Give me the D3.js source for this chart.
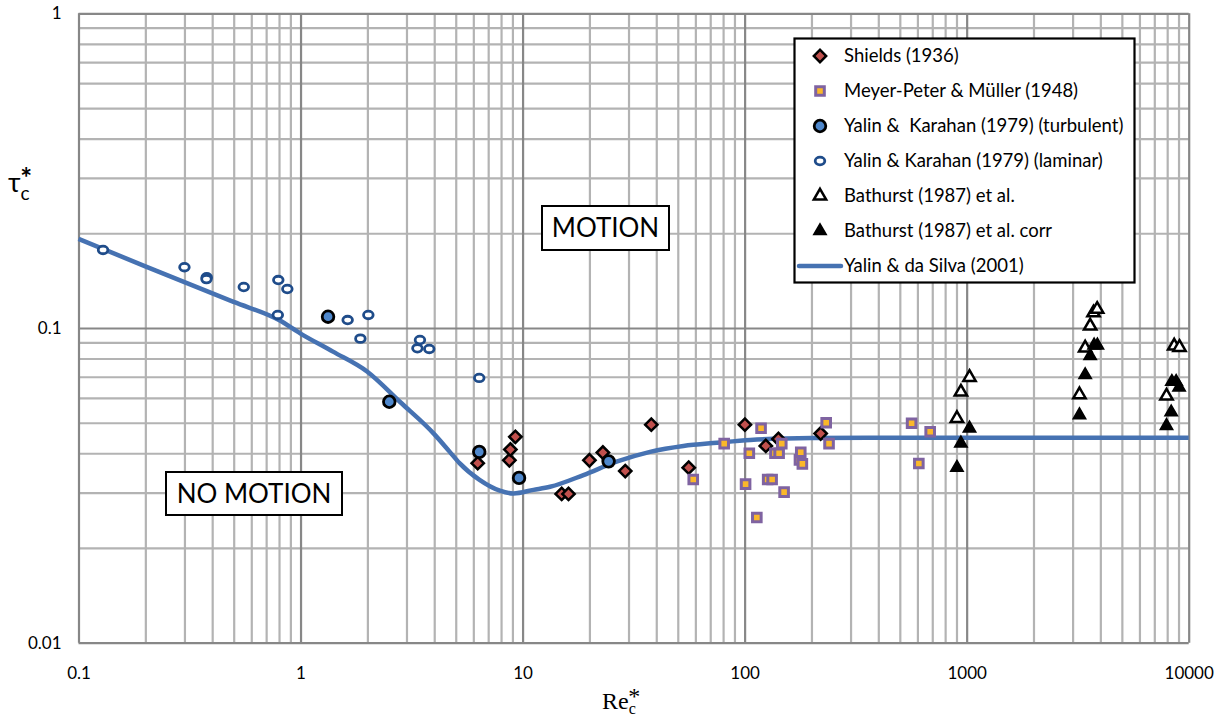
<!DOCTYPE html>
<html>
<head>
<meta charset="utf-8">
<script src="https://cdn.jsdelivr.net/npm/d3@7/dist/d3.min.js"></script>
<style>
  html, body { margin: 0; padding: 0; background: #fff; }
  svg { display: block; }
  text { font-family: Lato, "Open Sans", sans-serif; fill: #000; }
</style>
</head>
<body>
<svg id="chart" width="1225" height="718"></svg>
<script>
// Critical Shields stress versus critical particle Reynolds number

const shieldsRe  = [6.28, 8.72, 8.81, 9.28, 15.0, 16.1, 20.0, 23.0, 29.0, 38.0, 56.0, 100.3, 124.6, 142, 220];
const shieldsTau = [0.0372, 0.0380, 0.0411, 0.0451, 0.0297, 0.0297, 0.0380, 0.0402, 0.0351, 0.0493, 0.0360, 0.0493, 0.0422, 0.0444, 0.0462];

const mpmRe  = [58.7, 80.9, 101, 105, 113.5, 118.6, 127, 133, 137, 143, 147, 150.6, 176.6, 179, 182, 233, 240, 565, 609, 685];
const mpmTau = [0.0330, 0.0429, 0.0319, 0.0400, 0.0250, 0.0480, 0.0330, 0.0330, 0.0400, 0.0400, 0.0429, 0.0301, 0.0381, 0.0403, 0.0370, 0.0500, 0.0429, 0.0498, 0.0371, 0.0468];

const ykTurbRe  = [1.33, 2.51, 6.38, 9.64, 24.4];
const ykTurbTau = [0.1086, 0.0583, 0.0404, 0.0334, 0.0377];

const ykLamRe  = [0.129, 0.30, 0.378, 0.377, 0.555, 0.794, 0.872, 0.79, 1.63, 2.02, 1.86, 3.45, 3.36, 3.80, 6.38];
const ykLamTau = [0.177, 0.156, 0.145, 0.143, 0.135, 0.142, 0.133, 0.110, 0.106, 0.110, 0.0925, 0.0916, 0.0862, 0.0858, 0.0694];

const bathRe  = [904, 942, 1030, 3221, 3418, 3600, 3726, 3870, 7943, 8604, 9090];
const bathTau = [0.0516, 0.0626, 0.0697, 0.0614, 0.0864, 0.1015, 0.1118, 0.1147, 0.0608, 0.0877, 0.0868];

const bathCorrRe  = [904, 942, 1030, 3221, 3418, 3600, 3750, 3880, 7943, 8340, 8400, 8780, 9050];
const bathCorrTau = [0.036, 0.043, 0.048, 0.0529, 0.0709, 0.0815, 0.0881, 0.0881, 0.0489, 0.054, 0.0675, 0.0675, 0.0648];

const curveRe  = [0.1, 0.2, 0.5, 0.8, 1, 1.4, 2, 2.8, 4, 4.7, 5.2, 6.4, 7.9, 9.1, 11.2, 13.3, 18.8, 26.5, 37.5, 53, 75, 106, 200, 500, 1000, 3000, 10000];
const curveTau = [0.192, 0.157, 0.121, 0.106, 0.096, 0.0841, 0.0726, 0.0583, 0.0460, 0.0404, 0.0372, 0.0329, 0.0304, 0.0298, 0.0306, 0.0313, 0.0341, 0.0376, 0.0404, 0.0422, 0.0432, 0.0441, 0.0447, 0.0448, 0.0448, 0.0448, 0.0448];

const xTickLabels = ["0.1", "1", "10", "100", "1000", "10000"];
const yTickLabels = ["0.01", "0.1", "1"];

const legendNames = [
  "Shields (1936)",
  "Meyer-Peter & Müller (1948)",
  "Yalin &  Karahan (1979) (turbulent)",
  "Yalin & Karahan (1979) (laminar)",
  "Bathurst (1987) et al.",
  "Bathurst (1987) et al. corr",
  "Yalin & da Silva (2001)"
];

const svg = d3.select("#chart");
const plotL = 78.5, plotR = 1188.7, plotT = 13.3, plotB = 642.7;

const x = d3.scaleLog().domain([0.1, 10000]).range([plotL, plotR]);
const y = d3.scaleLog().domain([0.01, 1]).range([plotB, plotT]);

// grid values: minor 2..9 per decade, major on decades
const xMinor = [], xMajor = xTickLabels.map(Number);
for (let d = 0.1; d < 5000; d *= 10) for (let k = 2; k <= 9; k++) xMinor.push(+(d * k).toPrecision(3));
const yMinor = [], yMajor = yTickLabels.map(Number);
for (let d = 0.01; d < 0.5; d *= 10) for (let k = 2; k <= 9; k++) yMinor.push(+(d * k).toPrecision(3));

const minorColor = "#b3b3b3", majorColor = "#878787";

function gridX(vals, color) {
  const g = svg.append("g").attr("transform", `translate(0,${plotB})`)
    .call(d3.axisBottom(x).tickValues(vals).tickSize(-(plotB - plotT)).tickFormat(""));
  g.select(".domain").remove();
  g.selectAll("line").attr("stroke", color).attr("stroke-width", 2.2);
}
function gridY(vals, color) {
  const g = svg.append("g").attr("transform", `translate(${plotL},0)`)
    .call(d3.axisLeft(y).tickValues(vals).tickSize(-(plotR - plotL)).tickFormat(""));
  g.select(".domain").remove();
  g.selectAll("line").attr("stroke", color).attr("stroke-width", 2.2);
}
gridX(xMinor, minorColor);
gridY(yMinor, minorColor);
gridX(xMajor, majorColor);
gridY(yMajor, majorColor);

// tick labels
const xa = svg.append("g").attr("transform", `translate(0,${plotB})`)
  .call(d3.axisBottom(x).tickValues(xMajor).tickSize(0).tickPadding(24)
    .tickFormat((d, i) => xTickLabels[i]));
xa.select(".domain").remove();
xa.selectAll("text").style("font-size", "17px").style("font-family", "Lato, sans-serif");

const ya = svg.append("g").attr("transform", `translate(${plotL},0)`)
  .call(d3.axisLeft(y).tickValues(yMajor).tickSize(0).tickPadding(17)
    .tickFormat((d, i) => yTickLabels[i]));
ya.select(".domain").remove();
ya.selectAll("text").style("font-size", "17px").style("font-family", "Lato, sans-serif");

// axis titles: tau_c* and Re_c*, with stacked sub/superscripts
const yt = svg.append("text").attr("x", 8).attr("y", 192).style("font-size", "27px");
yt.append("tspan").text("τ");
yt.append("tspan").attr("dy", 8).style("font-size", "19px").text("c");
yt.append("tspan").attr("dx", -9.5).attr("dy", -12).style("font-size", "28px").style("font-weight", "bold").text("*");

const xt = svg.append("text").attr("x", 602).attr("y", 709)
  .style("font-family", "'Liberation Serif', serif").style("font-size", "24px");
xt.append("tspan").text("Re");
xt.append("tspan").attr("dy", 5).style("font-size", "16px").text("c");
xt.append("tspan").attr("dx", -7.5).attr("dy", -10).style("font-size", "24px").text("*");

// Yalin & da Silva curve
const line = d3.line().x(d => x(d[0])).y(d => y(d[1])).curve(d3.curveMonotoneX);
svg.append("path")
  .datum(curveRe.map((r, i) => [r, curveTau[i]]))
  .attr("d", line)
  .attr("fill", "none")
  .attr("stroke", "#4672b2")
  .attr("stroke-width", 4.5);

// marker styles
const styles = {
  shields: { type: "diamond", fill: "#c0504d", stroke: "#000", sw: 2.5 },
  mpm:     { type: "square",  fill: "#fbb82a", stroke: "#7f63a1", sw: 3 },
  turb:    { type: "circle",  fill: "#4f88cc", stroke: "#000", sw: 2.8 },
  lam:     { type: "ellipse", fill: "#fff", stroke: "#1f4c8a", sw: 2.8 },
  bath:    { type: "tri",     fill: "#fff", stroke: "#000", sw: 2.5 },
  bathc:   { type: "tri",     fill: "#000", stroke: "#000", sw: 1.6 }
};

function drawMarker(g, s, cx, cy) {
  if (s.type === "diamond") {
    g.append("path").attr("d", d3.symbol(d3.symbolSquare, 76)())
      .attr("transform", `translate(${cx},${cy}) rotate(45)`);
  } else if (s.type === "square") {
    g.append("path").attr("d", d3.symbol(d3.symbolSquare, 74)())
      .attr("transform", `translate(${cx},${cy})`);
  } else if (s.type === "circle") {
    g.append("circle").attr("cx", cx).attr("cy", cy).attr("r", 5.8);
  } else if (s.type === "ellipse") {
    g.append("ellipse").attr("cx", cx).attr("cy", cy).attr("rx", 4.8).attr("ry", 3.8);
  } else if (s.type === "tri") {
    g.append("path").attr("d", d3.symbol(d3.symbolTriangle, 66)())
      .attr("transform", `translate(${cx},${cy})`);
  }
}

function series(reArr, tauArr, s) {
  const g = svg.append("g").attr("fill", s.fill).attr("stroke", s.stroke).attr("stroke-width", s.sw);
  reArr.forEach((r, i) => drawMarker(g, s, x(r), y(tauArr[i])));
}
series(shieldsRe, shieldsTau, styles.shields);
series(mpmRe, mpmTau, styles.mpm);
series(ykTurbRe, ykTurbTau, styles.turb);
series(ykLamRe, ykLamTau, styles.lam);
series(bathRe, bathTau, styles.bath);
series(bathCorrRe, bathCorrTau, styles.bathc);

// region labels
function boxLabel(x0, y0, w, h, txt) {
  svg.append("rect").attr("x", x0).attr("y", y0).attr("width", w).attr("height", h)
    .attr("fill", "#fff").attr("stroke", "#000").attr("stroke-width", 2);
  svg.append("text").attr("x", x0 + w / 2).attr("y", y0 + h / 2 + 9)
    .attr("text-anchor", "middle").style("font-size", "26px").text(txt);
}
boxLabel(542, 206, 127, 44, "MOTION");
boxLabel(166, 472, 176, 43, "NO MOTION");

// legend
const lg = svg.append("g");
lg.append("rect").attr("x", 794.5).attr("y", 38.5).attr("width", 340).attr("height", 244)
  .attr("fill", "#fff").attr("stroke", "#000").attr("stroke-width", 2.2);
const legendStyles = [styles.shields, styles.mpm, styles.turb, styles.lam, styles.bath, styles.bathc];
const rowY = d3.range(7).map(i => 56 + i * 35);
legendStyles.forEach((s, i) => {
  const g = lg.append("g").attr("fill", s.fill).attr("stroke", s.stroke).attr("stroke-width", s.sw);
  drawMarker(g, s, 820, rowY[i]);
});
lg.append("line").attr("x1", 799).attr("x2", 841).attr("y1", rowY[6]).attr("y2", rowY[6])
  .attr("stroke", "#4672b2").attr("stroke-width", 4.5).attr("stroke-linecap", "round");
legendNames.forEach((n, i) => {
  lg.append("text").attr("x", 844).attr("y", rowY[i] + 6).style("font-size", "18.5px")
    .style("white-space", "pre").attr("xml:space", "preserve").text(n);
});
</script>
</body>
</html>
